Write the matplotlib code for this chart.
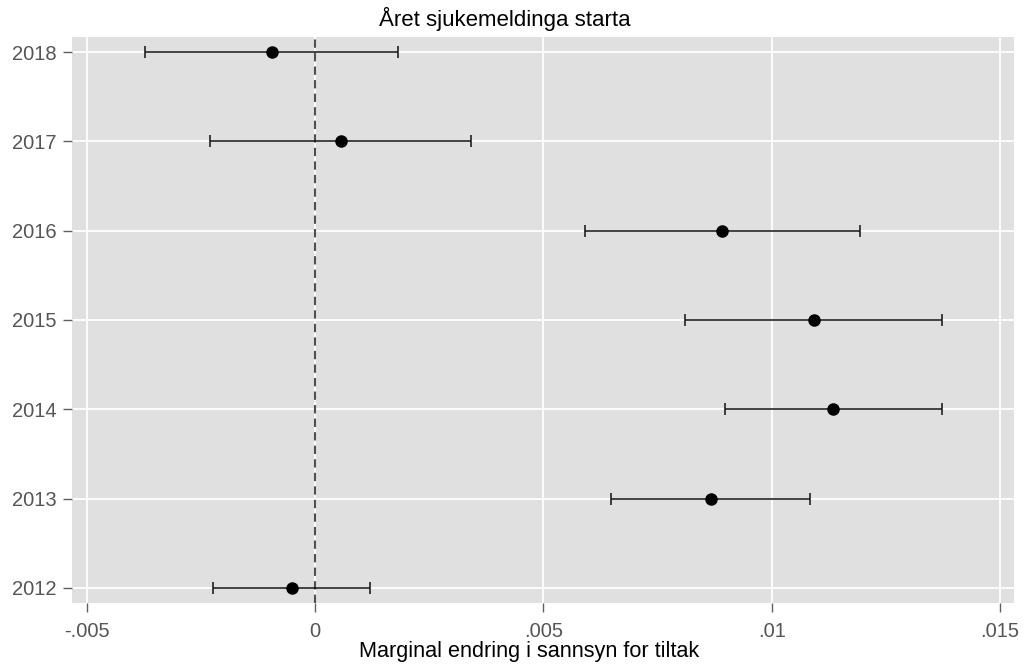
import matplotlib
matplotlib.use("Agg")
import matplotlib.pyplot as plt

# Marginal effects by start year, with confidence interval bounds
years = [2018, 2017, 2016, 2015, 2014, 2013, 2012]
effect = [-0.00095, 0.00056, 0.00892, 0.01093, 0.01135, 0.00867, -0.00051]
ci_low = [-0.00372, -0.00230, 0.00591, 0.00810, 0.00898, 0.00648, -0.00223]
ci_high = [0.00181, 0.00342, 0.01194, 0.01374, 0.01373, 0.01085, 0.00120]

x_ticks = [-0.005, 0, 0.005, 0.01, 0.015]
x_tick_labels = ["-.005", "0", ".005", ".01", ".015"]

title = "Året sjukemeldinga starta"
xlabel = "Marginal endring i sannsyn for tiltak"

plt.rcParams["font.family"] = ["Liberation Sans", "DejaVu Sans"]

fig = plt.figure(figsize=(10.24, 6.66), dpi=100)
ax = fig.add_axes([72.3 / 1024, 1 - 603.3 / 666, (1014.3 - 72.3) / 1024, (603.3 - 36.7) / 666])
ax.set_facecolor("#e0e0e0")
for s in ax.spines.values():
    s.set_visible(False)

ax.set_xlim(-0.005315, 0.015314)
ax.set_ylim(2011.826, 2018.174)

ax.set_xticks(x_ticks)
ax.set_xticklabels(x_tick_labels)
ax.set_yticks(years)
ax.set_yticklabels([str(y) for y in years])
ax.grid(True, color="white", linewidth=1.3)
ax.set_axisbelow(True)
ax.tick_params(axis="both", colors="#606060", labelcolor="#555555", labelsize=14.5,
               length=6.5, width=1.0)
ax.tick_params(axis="x", pad=7)
ax.tick_params(axis="y", pad=5)

ax.axvline(0, color="#505050", linestyle=(0, (4, 2.5)), linewidth=1.5, zorder=2)

lo_err = [e - l for e, l in zip(effect, ci_low)]
hi_err = [h - e for e, h in zip(effect, ci_high)]
ax.errorbar(effect, years, xerr=[lo_err, hi_err], fmt="o", color="black",
            ecolor="#111111", elinewidth=1.1, capsize=4, capthick=1.1,
            markersize=8, zorder=3)

fig.text(504.5 / 1024, 1 - 19 / 666, title, ha="center", va="center", fontsize=16, color="black")
fig.text(529 / 1024, 1 - 652 / 666, xlabel, ha="center", va="center", fontsize=15.6, color="black")

fig.savefig("out.png", dpi=100)
